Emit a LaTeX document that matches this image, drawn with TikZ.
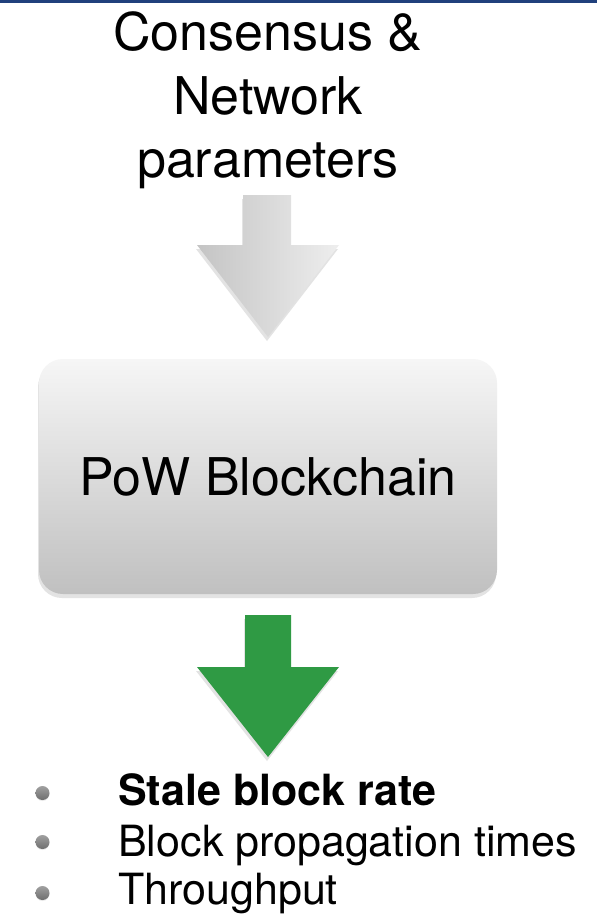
\documentclass[tikz,border=0pt]{standalone}
\usepackage{fontspec}
\setmainfont{TeX Gyre Heros}
\usetikzlibrary{shadows}
\definecolor{topbar}{RGB}{32,64,124}
\definecolor{arrowgreen}{RGB}{47,154,68}
\definecolor{boxtop}{RGB}{246,246,246}
\definecolor{boxbot}{RGB}{192,192,192}
\definecolor{graydark}{RGB}{196,196,196}
\definecolor{graylight}{RGB}{238,238,238}
\definecolor{dottop}{RGB}{160,160,160}
\definecolor{dotbot}{RGB}{110,110,110}
\tikzset{
  bigtext/.style={font=\fontsize{52}{63}\selectfont, anchor=base, inner sep=0pt},
  itemtext/.style={font=\fontsize{43}{50}\selectfont, anchor=base west, inner sep=0pt},
  bulletdot/.style={circle, minimum size=14pt, inner sep=0pt, top color=dottop, bottom color=dotbot,
    drop shadow={opacity=0.15, shadow xshift=0pt, shadow yshift=-1pt}},
  shadowsoft/.style={drop shadow={opacity=0.22, shadow xshift=-1pt, shadow yshift=-4pt}},
}
\begin{document}
\begin{tikzpicture}[x=1pt,y=-1pt]
\useasboundingbox (0,0) rectangle (597,915);
\fill[white] (0,0) rectangle (597,915);
\fill[topbar] (0,0) rectangle (597,3);
% title
\node[bigtext] (t1) at (268,51) {Consensus \&};
\node[bigtext] (t2) at (268,115) {Network};
\node[bigtext] (t3) at (268,177) {parameters};
% gray arrow
\shade[left color=graydark, right color=graylight, shadowsoft]
  (243,195) -- (291,195) -- (291,245) -- (339,245) -- (268,337) -- (197,245) -- (243,245) -- cycle;
% box
\node[draw=none, rounded corners=24pt, minimum width=458pt, minimum height=235pt,
  top color=boxtop, bottom color=boxbot, shadowsoft] (box) at (268,476.5) {};
\node[bigtext] (boxlabel) at (268,495) {PoW Blockchain};
% green arrow
\fill[arrowgreen, shadowsoft]
  (245,615) -- (291,615) -- (291,667) -- (339,667) -- (268,757) -- (197,667) -- (245,667) -- cycle;
% bullets
\node[bulletdot] (b1) at (42.5,793) {};
\node[bulletdot] (b2) at (42.5,842) {};
\node[bulletdot] (b3) at (42.5,893) {};
\node[itemtext] (i1) at (118,805) {\bfseries Stale block rate};
\node[itemtext] (i2) at (118,856) {Block propagation times};
\node[itemtext] (i3) at (118,904) {Throughput};
\end{tikzpicture}
\end{document}
